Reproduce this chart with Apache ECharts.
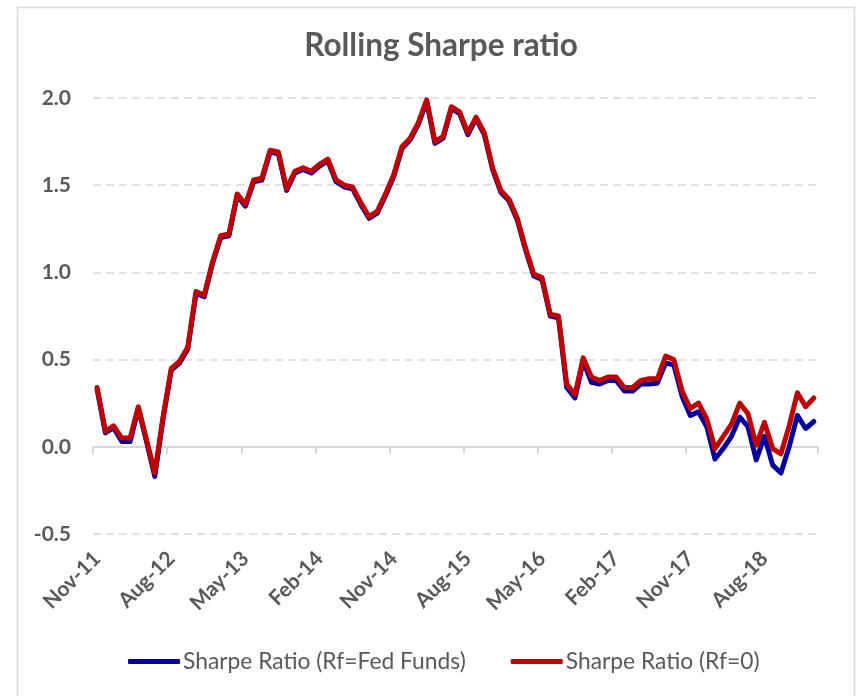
<!DOCTYPE html>
<html>
<head>
<meta charset="utf-8">
<script src="https://cdn.jsdelivr.net/npm/echarts@6/dist/echarts.min.js"></script>
<style>
  html, body { margin: 0; padding: 0; background: #ffffff; }
  #chart { width: 864px; height: 696px; }
</style>
</head>
<body>
<div id="chart"></div>
<script>
// Monthly observations, Nov-2011 .. Feb-2019
const months = (function () {
  const names = ['Jan','Feb','Mar','Apr','May','Jun','Jul','Aug','Sep','Oct','Nov','Dec'];
  const out = [];
  let m = 10, y = 11;
  for (let i = 0; i < 88; i++) {
    out.push(names[m] + '-' + String(y).padStart(2, '0'));
    m++; if (m === 12) { m = 0; y++; }
  }
  return out;
})();

// Rolling Sharpe ratio, risk-free rate = Fed Funds
const sharpeFedFunds = [
  0.33, 0.08, 0.11, 0.03, 0.03, 0.22, 0.03, -0.17, 0.16, 0.44,
  0.48, 0.56, 0.88, 0.86, 1.05, 1.20, 1.21, 1.44, 1.38, 1.52,
  1.53, 1.69, 1.68, 1.47, 1.57, 1.59, 1.57, 1.61, 1.64, 1.52,
  1.49, 1.48, 1.39, 1.31, 1.34, 1.44, 1.55, 1.71, 1.76, 1.85,
  1.98, 1.74, 1.77, 1.94, 1.91, 1.79, 1.88, 1.79, 1.59, 1.46,
  1.41, 1.30, 1.13, 0.98, 0.96, 0.75, 0.74, 0.34, 0.28, 0.49,
  0.37, 0.36, 0.38, 0.38, 0.32, 0.32, 0.36, 0.36, 0.365, 0.48,
  0.47, 0.29, 0.18, 0.20, 0.115, -0.07, -0.01, 0.06, 0.17, 0.115,
  -0.075, 0.06, -0.105, -0.15, 0.00, 0.18, 0.105, 0.145
];

// Rolling Sharpe ratio, risk-free rate = 0
const sharpeZero = [
  0.34, 0.09, 0.12, 0.05, 0.05, 0.23, 0.04, -0.15, 0.17, 0.45,
  0.49, 0.57, 0.89, 0.87, 1.06, 1.21, 1.22, 1.45, 1.39, 1.53,
  1.54, 1.70, 1.69, 1.48, 1.58, 1.60, 1.58, 1.62, 1.65, 1.53,
  1.50, 1.49, 1.40, 1.32, 1.35, 1.45, 1.56, 1.72, 1.77, 1.86,
  1.99, 1.75, 1.78, 1.95, 1.92, 1.80, 1.89, 1.80, 1.60, 1.47,
  1.42, 1.31, 1.14, 0.99, 0.97, 0.76, 0.75, 0.36, 0.30, 0.51,
  0.40, 0.38, 0.40, 0.40, 0.34, 0.34, 0.38, 0.39, 0.39, 0.52,
  0.50, 0.32, 0.22, 0.25, 0.16, -0.01, 0.06, 0.13, 0.25, 0.19,
  0.01, 0.14, -0.01, -0.04, 0.12, 0.31, 0.23, 0.28
];

const yTicks = [-0.5, 0.0, 0.5, 1.0, 1.5, 2.0];

const FONT = 'Lato';
const TEXT = '#595959';
const GRIDC = '#d9d9d9';

const chart = echarts.init(document.getElementById('chart'), null, { renderer: 'canvas' });

chart.setOption({
  animation: false,
  backgroundColor: '#ffffff',
  textStyle: { fontFamily: FONT },
  graphic: [{
    type: 'rect',
    shape: { x: 17.5, y: 7.5, width: 837, height: 700 },
    style: { fill: 'none', stroke: GRIDC, lineWidth: 1.5 },
    silent: true
  }],
  title: {
    text: 'Rolling Sharpe ratio',
    left: 441, top: 30, textAlign: 'center', padding: 0,
    textStyle: { fontFamily: FONT, fontSize: 31.5, fontWeight: 'bold', color: TEXT }
  },
  legend: {
    data: ['Sharpe Ratio (Rf=Fed Funds)', 'Sharpe Ratio (Rf=0)'],
    left: 128, top: 650, padding: 0,
    icon: 'roundRect',
    itemWidth: 52, itemHeight: 5, itemGap: 45,
    textStyle: { fontFamily: FONT, fontSize: 22.8, color: TEXT, padding: [0, 0, 0, -2] }
  },
  grid: { left: 93, right: 46, top: 98, bottom: 162, containLabel: false },
  xAxis: [{
    type: 'category',
    data: months,
    position: 'bottom',
    boundaryGap: true,
    axisLine: { show: false, onZero: false },
    axisTick: { show: false },
    splitLine: { show: false },
    axisLabel: {
      interval: 8, rotate: 45, margin: 21,
      fontFamily: FONT, fontSize: 21, fontWeight: 'bold', color: TEXT
    }
  }, {
    type: 'category',
    data: months,
    position: 'top',
    boundaryGap: true,
    axisLine: { show: true, onZero: true, lineStyle: { color: GRIDC, width: 2 } },
    axisTick: { show: true, inside: true, interval: 8, length: 7, lineStyle: { color: GRIDC, width: 2 } },
    axisLabel: { show: false },
    splitLine: { show: false }
  }],
  yAxis: {
    type: 'value',
    min: yTicks[0], max: yTicks[yTicks.length - 1], interval: 0.5,
    axisLine: { show: false },
    axisTick: { show: false },
    axisLabel: {
      margin: 22,
      formatter: v => v.toFixed(1),
      fontFamily: FONT, fontSize: 21, fontWeight: 'bold', color: TEXT
    },
    splitLine: { show: true, lineStyle: { color: GRIDC, width: 1.5, type: [8, 5] } }
  },
  series: [{
    name: 'Sharpe Ratio (Rf=Fed Funds)',
    type: 'line',
    xAxisIndex: 0,
    data: sharpeFedFunds,
    showSymbol: false,
    symbol: 'none',
    lineStyle: { color: '#00009c', width: 5, join: 'round', cap: 'round' },
    itemStyle: { color: '#00009c' }
  }, {
    name: 'Sharpe Ratio (Rf=0)',
    type: 'line',
    xAxisIndex: 0,
    data: sharpeZero,
    showSymbol: false,
    symbol: 'none',
    lineStyle: { color: '#c00000', width: 5, join: 'round', cap: 'round' },
    itemStyle: { color: '#c00000' }
  }]
});
</script>
</body>
</html>
